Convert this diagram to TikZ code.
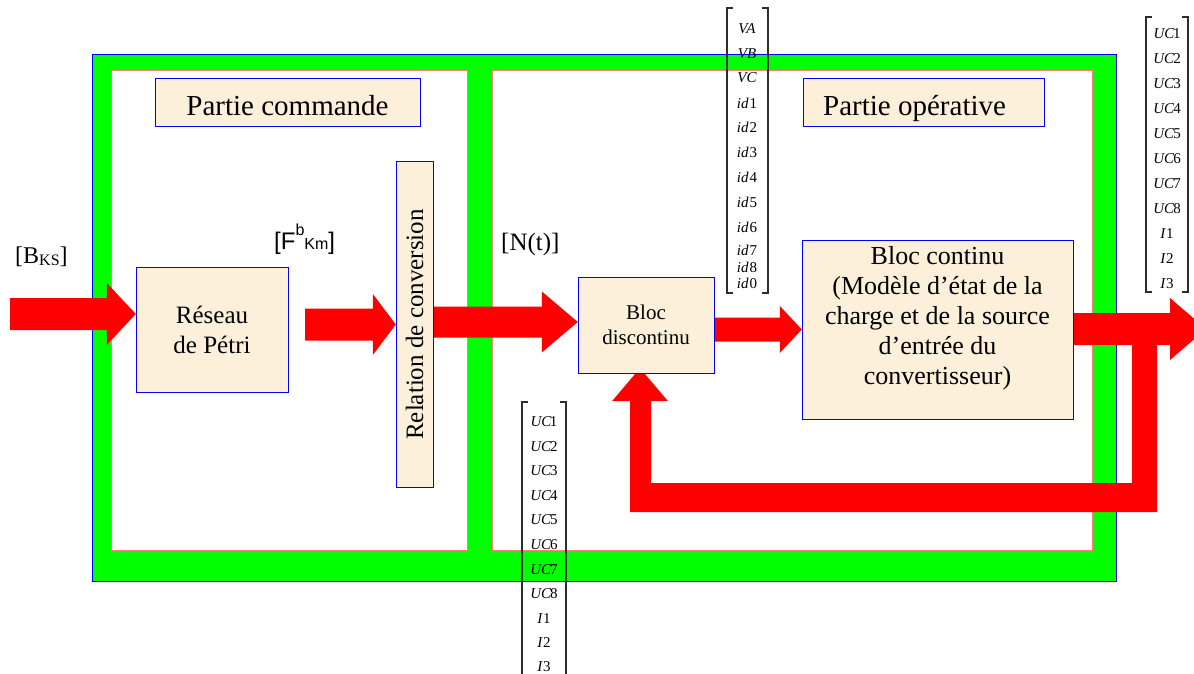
\documentclass[tikz,border=0pt]{standalone}
\usepackage{fontspec}
\setmainfont{Liberation Serif}
\setsansfont{Liberation Sans}
\usetikzlibrary{calc}

\definecolor{framegreen}{RGB}{0,255,0}
\definecolor{framered}{RGB}{255,125,125}
\definecolor{boxfill}{RGB}{252,240,218}
\definecolor{arrowred}{RGB}{255,0,0}
\definecolor{bracketgray}{RGB}{45,45,45}

\tikzset{
  blockbox/.style={draw=blue, line width=1pt, fill=boxfill, inner sep=0pt, align=center},
  entry/.style={inner sep=0pt, font=\fontsize{15}{15}\selectfont},
  bracketline/.style={draw=bracketgray, line width=1.2pt},
  labeltext/.style={inner sep=0pt, anchor=base west},
}

% horizontal block arrow: tail point, tip point, shaft half width, head half width, head length
\newcommand\blockarrow[5]{%
  \fill[arrowred] let \p1=#1, \p2=#2 in
    ({\x1},{\y2+#3pt}) -- ({\x2-#5pt},{\y2+#3pt}) -- ({\x2-#5pt},{\y2+#4pt}) -- (\p2)
    -- ({\x2-#5pt},{\y2-#4pt}) -- ({\x2-#5pt},{\y2-#3pt}) -- ({\x1},{\y2-#3pt}) -- cycle;}

% column-vector brackets: left x, right x, top y, bottom y
\newcommand\vbracket[4]{%
  \draw[bracketline] ({#1+6},#3) -- (#1,#3) -- (#1,#4) -- ({#1+6},#4);
  \draw[bracketline] ({#2-6},#3) -- (#2,#3) -- (#2,#4) -- ({#2-6},#4);}

\begin{document}
\begin{tikzpicture}[x=1pt,y=-1pt]
\useasboundingbox (0,0) rectangle (1194,674);
\clip (0,0) rectangle (1194,674);

% frame: green band with the two white parts
\filldraw[fill=framegreen, draw=blue, line width=1pt] (92,55) rectangle (1116,581);
\filldraw[fill=white, draw=framered, line width=1pt] (111,71) rectangle (467,550);
\filldraw[fill=white, draw=framered, line width=1pt] (492,71) rectangle (1092,550);

% block positions (boxes drawn after the arrows)
\coordinate (reseauC) at (212,329.5);
\coordinate (relationC) at (414.5,324.5);
\coordinate (discontinuC) at (646,325);
\coordinate (continuC) at (937.5,329.5);
\path (reseauC) node[minimum width=152, minimum height=125, inner sep=0pt] (reseau) {};
\path (relationC) node[minimum width=37, minimum height=325, inner sep=0pt] (relation) {};
\path (discontinuC) node[minimum width=136, minimum height=96, inner sep=0pt] (discontinu) {};
\path (continuC) node[minimum width=271, minimum height=179, inner sep=0pt] (continu) {};

\coordinate (src) at (10,314);
\coordinate (sink) at (1206,329);

% signal arrows
\blockarrow{(src)}{($(reseau.west)+(0,-15.5)$)}{16}{31}{29}
\blockarrow{($(reseau.east)+(17,0)$)}{(relation.west)}{16}{30.5}{23}
\blockarrow{(relation.east)}{($(discontinu.west)+(0,-3)$)}{15.5}{30.5}{36}
\blockarrow{(discontinu.east)}{(continu.west)}{12}{23.5}{22}
\blockarrow{(continu.east)}{(sink)}{16}{31}{36}

% feedback loop back to the discontinuous block
\coordinate (fbtip) at ($(discontinu.south)+(-6,-5)$);
\fill[arrowred] (fbtip) -- ++(28,33) -- ++(-17,0) -- ++(0,82) -- ++(481,0)
  -- ++(0,-143) -- ++(25,0) -- ++(0,172) -- ++(-527,0) -- ++(0,-111) -- ++(-18,0) -- cycle;

% blocks
\node[blockbox, minimum width=265, text height=37, text depth=11, anchor=base,
      font=\fontsize{29}{29}\selectfont] (cmd) at (287.5,116) {Partie commande};
\node[blockbox, minimum width=241, minimum height=48] (oper) at (923.5,103) {};
\node[labeltext, font=\fontsize{29}{29}\selectfont] (opertext) at (823,116) {Partie opérative};
\node[blockbox, minimum width=152, minimum height=125, font=\fontsize{25}{30}\selectfont]
  at (reseauC) {Réseau\\de Pétri};
\node[blockbox, minimum width=325, minimum height=37, rotate=90, font=\fontsize{25}{25}\selectfont]
  at (relationC) {Relation de conversion};
\node[blockbox, minimum width=136, minimum height=96, font=\fontsize{21}{25}\selectfont]
  at (discontinuC) {Bloc\\discontinu};
\node[blockbox, minimum width=271, minimum height=179] at (continuC) {};
\node[align=center, inner sep=0pt, font=\fontsize{26}{30}\selectfont] (continutext)
  at ($(continu)+(0,-11)$) {Bloc continu\\(Modèle d’état de la\\charge et de la source\\d’entrée du\\convertisseur)};

% signal names
\node[labeltext, font=\fontsize{24}{24}\selectfont] (bks) at (15,263)
  {[B\raisebox{-2pt}{\fontsize{16}{16}\selectfont KS}]};
\node[labeltext, font=\sffamily\fontsize{24}{24}\selectfont] (fbkm) at (274,249)
  {[F\raisebox{14pt}{\fontsize{16}{16}\selectfont b}{\fontsize{16}{16}\selectfont Km}]};
\node[labeltext, font=\fontsize{25}{25}\selectfont] (nt) at (501,250) {[N(t)]};

% voltage and current vector
\vbracket{727}{768}{8}{293}
\foreach \t/\yy [count=\i] in {\textit{VA}/29, \textit{VB}/54, \textit{VC}/78,
    \textit{id}\kern1pt1/103, \textit{id}\kern1pt2/127, \textit{id}\kern1pt3/152,
    \textit{id}\kern1pt4/177, \textit{id}\kern1pt5/202, \textit{id}\kern1pt6/227,
    \textit{id}\kern1pt7/250, \textit{id}\kern1pt8/267, \textit{id}\kern1pt0/283}
  \node[entry] (vin\i) at (747,\yy) {\t};

% state vector at the output
\vbracket{1146}{1188}{17}{292}
\foreach \t/\yy [count=\i] in {\textit{UC}\kern-1.5pt1/34, \textit{UC}\kern-1pt2/59,
    \textit{UC}\kern-1pt3/84, \textit{UC}\kern-1pt4/109, \textit{UC}\kern-1pt5/134,
    \textit{UC}\kern-1pt6/159, \textit{UC}\kern-1pt7/184, \textit{UC}\kern-1pt8/209,
    \textit{I}1/234, \textit{I}2/259, \textit{I}3/284}
  \node[entry] (vout\i) at (1167,\yy) {\t};

% state vector fed back
\vbracket{522}{566}{402}{690}
\foreach \t/\yy [count=\i] in {\textit{UC}\kern-1.5pt1/422, \textit{UC}\kern-1pt2/447,
    \textit{UC}\kern-1pt3/471, \textit{UC}\kern-1pt4/496, \textit{UC}\kern-1pt5/520,
    \textit{UC}\kern-1pt6/545, \textit{UC}\kern-1pt7/570, \textit{UC}\kern-1pt8/594,
    \textit{I}1/619, \textit{I}2/643, \textit{I}3/667}
  \node[entry] (vfb\i) at (544,\yy) {\t};
\end{tikzpicture}
\end{document}
